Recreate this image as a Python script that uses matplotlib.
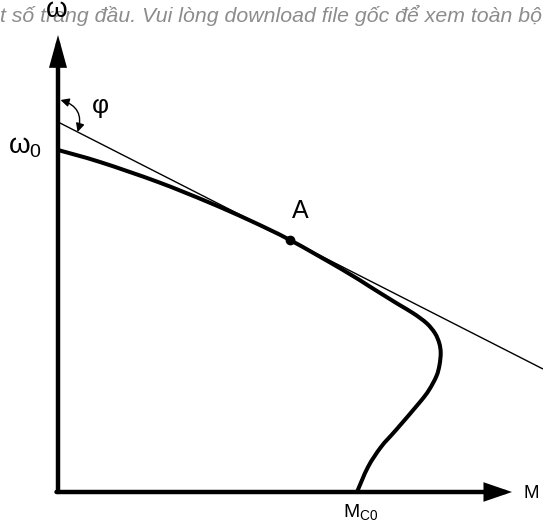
import numpy as np
import matplotlib
matplotlib.use("Agg")
import matplotlib.pyplot as plt
from matplotlib.path import Path
from matplotlib.patches import PathPatch, FancyArrowPatch

plt.rcParams["font.family"] = ["Liberation Sans", "DejaVu Sans"]

# Mechanical characteristic omega(M), origin at the axes crossing
curve_M = [0, 42, 100, 150, 192, 232, 285, 312, 338.7, 355.3, 368.7, 377, 381.3,
           382.7, 381.5, 378.5, 371, 362, 338, 323, 310, 299]
curve_w = [342, 330, 310, 290, 271.5, 252, 222, 205.3, 188.7, 178.7, 168.7, 158.7,
           148.7, 139, 127, 116, 102, 90, 62, 45, 25, 0]

# Operating point A and the tangent drawn through it
point_A = (232, 252)
tangent_M = [0, 485]
tangent_w = [370, 123]

WATERMARK = "t số trang đầu. Vui lòng download file gốc để xem toàn bộ"


def smooth_path(xs, ys):
    # Catmull-Rom through the points, written as cubic Bezier segments
    pts = np.column_stack([xs, ys]).astype(float)
    ext = np.vstack([pts[0], pts, pts[-1]])
    verts = [pts[0]]
    codes = [Path.MOVETO]
    for i in range(1, len(ext) - 2):
        p0, p1, p2, p3 = ext[i - 1], ext[i], ext[i + 1], ext[i + 2]
        verts += [p1 + (p2 - p0) / 6, p2 - (p3 - p1) / 6, p2]
        codes += [Path.CURVE4] * 3
    return Path(verts, codes)


fig = plt.figure(figsize=(5.43, 5.26), dpi=100)
ax = fig.add_axes([0, 0, 1, 1])
ax.set_xlim(-58, 485)
ax.set_ylim(-34, 492)
ax.axis("off")

# axes with arrow heads
ax.annotate("", xy=(0, 457), xytext=(0, 0),
            arrowprops=dict(arrowstyle="-|>,head_length=0.8,head_width=0.22",
                            mutation_scale=20, lw=3.2, color="black",
                            shrinkA=0, shrinkB=0, joinstyle="miter"))
ax.annotate("", xy=(454, 0), xytext=(-1.5, 0),
            arrowprops=dict(arrowstyle="-|>,head_length=0.7,head_width=0.24",
                            mutation_scale=20, lw=3.2, color="black",
                            shrinkA=0, shrinkB=0, joinstyle="miter"))

ax.plot(tangent_M, tangent_w, color="black", lw=1.0, solid_capstyle="butt")
ax.add_patch(PathPatch(smooth_path(curve_M, curve_w), fill=False, lw=2.9,
                       edgecolor="black", capstyle="butt"))
ax.plot(*point_A, "o", color="black", ms=6)

# angle phi between the omega axis and the tangent
ax.add_patch(FancyArrowPatch((19.6, 360), (2.5, 392),
                             connectionstyle="arc3,rad=0.5",
                             arrowstyle="<|-|>,head_length=5,head_width=2.5",
                             mutation_scale=1, lw=1.0, color="black",
                             shrinkA=0, shrinkB=0))

ax.text(-58, 470, WATERMARK, fontsize=15.3, style="italic", color="#8c8c8c",
        ha="left", va="baseline", zorder=0)

ax.text(-1, 475, "ω", fontsize=20, ha="center", va="baseline")
ax.text(-33, 339, r"$\mathregular{ω_0}$", fontsize=20, ha="center", va="baseline")
ax.text(42, 386, "φ", fontsize=19, ha="center", va="center")
ax.text(242, 274, "A", fontsize=18, ha="center", va="baseline")
ax.text(473, -6, "M", fontsize=13.5, ha="center", va="baseline")
ax.text(303, -25, r"$\mathregular{M_{C0}}$", fontsize=14, ha="center", va="baseline")

fig.savefig("out.png", dpi=100)
